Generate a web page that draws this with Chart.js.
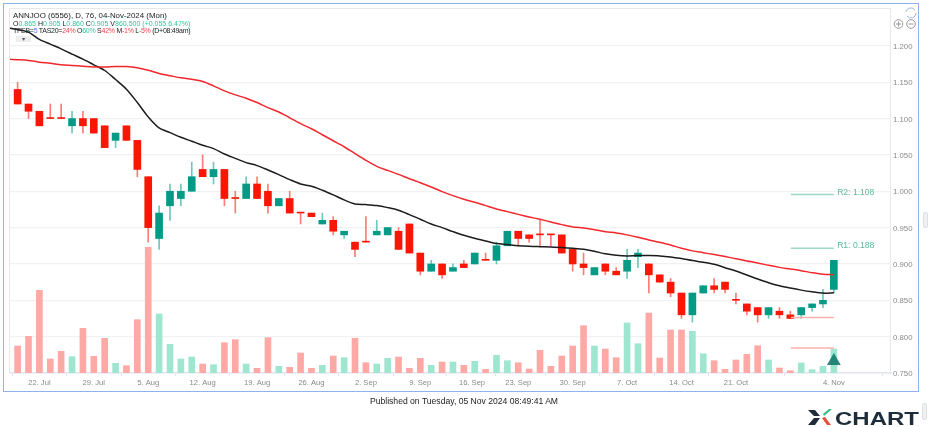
<!DOCTYPE html>
<html>
<head>
<meta charset="utf-8">
<script src="https://cdn.jsdelivr.net/npm/chart.js@4/dist/chart.umd.js"></script>
<style>
html, body { margin: 0; padding: 0; background: #fff; overflow: hidden; }
#wrap { position: relative; width: 928px; height: 427px; font-family: "Liberation Sans", Arial, sans-serif; }
#outer { position: absolute; left: 3px; top: 3px; width: 914px; height: 387px; border: 1px solid #8fb2ec; }
#inner { position: absolute; left: 9px; top: 8px; width: 880px; height: 364px; border: 1.5px solid #e8e8e8; border-bottom: 0; }
canvas { position: absolute; left: 0; top: 0; }
#info { position: absolute; left: 13px; top: 12px; line-height: 7.6px; color: #222; white-space: nowrap; }
#info .l1 { font-size: 7.9px; } #info .l2 { font-size: 7px; } #info .l3 { font-size: 7px; letter-spacing: -0.27px; }
#info .g { color: #2fc79a; } #info .r { color: #f5474a; } #info .b { color: #4d7cff; }
#drop { position: absolute; left: 16px; top: 36px; width: 15px; height: 6px; background: #eee; color: #555; font-size: 6px; line-height: 6px; text-align: center; }
#published { position: absolute; left: 0; width: 928px; top: 396px; text-align: center; font-size: 8.6px; color: #222; }
#logo { position: absolute; left: 808px; top: 408px; }
.handle { position: absolute; background: #eef0f2; border: 1px solid #dcdfe3; border-radius: 2px; }
#zoomer { position: absolute; left: 892px; top: 4px; }
</style>
</head>
<body>
<div id="wrap">
  <div id="outer"></div>
  <div id="inner"></div>
  <canvas id="xchart" width="928" height="427"></canvas>
  <div id="info">
    <div class="l1">ANNJOO (6556), D, 76, 04-Nov-2024 (Mon)</div>
    <div class="l2">O<span class="g">0.865</span> H<span class="g">0.905</span> L<span class="g">0.860</span> C<span class="g">0.905</span> V<span class="g">860,500</span> <span class="g">(+0.055 6.47%)</span></div>
    <div class="l3">TFEB=<span class="b">5</span> TAS20=<span class="r">24%</span> O<span class="g">60%</span> S<span class="r">42%</span> M<span class="r">-1%</span> L<span class="r">-5%</span> (D+08:49am)</div>
  </div>
  <div id="drop">&#9662;</div>
  <svg id="zoomer" width="28" height="28" viewBox="0 0 28 28" fill="none">
    <path d="M14 8 a5 5 0 0 1 9 -2 M24 9 a5 5 0 0 1 -9 3" stroke="#9db8ea" stroke-width="1"/>
    <circle cx="6.5" cy="20" r="4.3" stroke="#999"/><path d="M4 20h5M6.5 17.5v5" stroke="#999"/>
    <circle cx="19" cy="20" r="4.3" stroke="#999"/><path d="M16.5 20h5" stroke="#999"/>
  </svg>
  <div class="handle" style="left:923px;top:212px;width:3px;height:14px"></div>
  <div class="handle" style="left:922px;top:403px;width:3px;height:15px"></div>
  <div id="published">Published on Tuesday, 05 Nov 2024 08:49:41 AM</div>
  <svg id="logo" width="112" height="19" viewBox="0 0 112 19">
    <path d="M0 2h7l5 6h-6zM0 17h7l5-7h-6z" fill="#1f2d3a"/>
    <path d="M15 6l6-5h3l-8 7z" fill="#2fbf7f"/>
    <path d="M14 10l3-1 6 8h-4z" fill="#e8503a"/>
    <text x="27" y="17" font-family="Liberation Sans" font-weight="700" font-size="18.5" textLength="84" lengthAdjust="spacingAndGlyphs" fill="#1f2d3a">CHART</text>
  </svg>
</div>
<script>
const tickIndex = [2, 7, 12, 17, 22, 27, 32, 37, 41.75, 46, 51, 56, 61, 66, 75];
const tickLabels = ['22. Jul', '29. Jul', '5. Aug', '12. Aug', '19. Aug', '26. Aug', '2. Sep', '9. Sep', '16. Sep', '23. Sep', '30. Sep', '7. Oct', '14. Oct', '21. Oct', '4. Nov'];
const priceTicks = [0.75, 0.8, 0.85, 0.9, 0.95, 1.0, 1.05, 1.1, 1.15, 1.2];

const opens = [1.14, 1.12, 1.11, 1.10, 1.10, 1.09, 1.10, 1.10, 1.09, 1.07, 1.09, 1.07, 1.02, 0.935, 0.98, 0.99, 1.00, 1.03, 1.02, 1.03,
  0.99, 0.99, 1.01, 1.00, 0.98, 0.99, 0.97, 0.97, 0.955, 0.96, 0.94, 0.93, 0.93, 0.94, 0.94, 0.945, 0.955, 0.915, 0.89, 0.90,
  0.89, 0.90, 0.90, 0.905, 0.905, 0.925, 0.945, 0.94, 0.94, 0.94, 0.94, 0.92, 0.90, 0.885, 0.90, 0.89, 0.89, 0.91, 0.90, 0.885,
  0.875, 0.86, 0.83, 0.86, 0.87, 0.875, 0.85, 0.845, 0.84, 0.83, 0.835, 0.83, 0.83, 0.84, 0.845, 0.865];
const highs = [1.15, 1.12, 1.11, 1.12, 1.12, 1.11, 1.11, 1.10, 1.09, 1.08, 1.09, 1.07, 1.02, 0.98, 1.01, 1.01, 1.04, 1.05, 1.04, 1.03,
  1.00, 1.02, 1.02, 1.01, 0.99, 1.00, 0.97, 0.97, 0.97, 0.965, 0.945, 0.93, 0.965, 0.96, 0.95, 0.95, 0.955, 0.915, 0.905, 0.90,
  0.90, 0.905, 0.915, 0.915, 0.93, 0.945, 0.945, 0.94, 0.96, 0.94, 0.94, 0.92, 0.915, 0.895, 0.90, 0.895, 0.92, 0.92, 0.90, 0.885,
  0.88, 0.86, 0.86, 0.87, 0.88, 0.875, 0.86, 0.845, 0.84, 0.84, 0.84, 0.835, 0.84, 0.845, 0.865, 0.905];
const lows = [1.12, 1.10, 1.09, 1.10, 1.10, 1.08, 1.08, 1.08, 1.06, 1.06, 1.07, 1.02, 0.93, 0.92, 0.96, 0.98, 1.00, 1.02, 1.01, 0.98,
  0.97, 0.99, 0.99, 0.97, 0.98, 0.97, 0.955, 0.965, 0.955, 0.94, 0.935, 0.91, 0.93, 0.94, 0.94, 0.92, 0.915, 0.885, 0.89, 0.88,
  0.89, 0.895, 0.90, 0.905, 0.90, 0.925, 0.925, 0.93, 0.925, 0.925, 0.915, 0.89, 0.885, 0.885, 0.885, 0.885, 0.88, 0.895, 0.86, 0.875,
  0.855, 0.825, 0.82, 0.86, 0.86, 0.86, 0.845, 0.83, 0.82, 0.825, 0.825, 0.825, 0.825, 0.835, 0.84, 0.86];
const closes = [1.12, 1.11, 1.09, 1.10, 1.10, 1.10, 1.09, 1.08, 1.06, 1.08, 1.07, 1.03, 0.95, 0.97, 1.00, 1.00, 1.02, 1.02, 1.03, 0.99,
  0.99, 1.01, 0.99, 0.98, 0.99, 0.97, 0.97, 0.965, 0.96, 0.945, 0.945, 0.92, 0.93, 0.945, 0.95, 0.92, 0.915, 0.89, 0.90, 0.885,
  0.895, 0.895, 0.915, 0.905, 0.925, 0.945, 0.935, 0.935, 0.94, 0.94, 0.915, 0.90, 0.895, 0.895, 0.89, 0.885, 0.905, 0.915, 0.885, 0.875,
  0.86, 0.83, 0.86, 0.87, 0.865, 0.865, 0.85, 0.835, 0.83, 0.84, 0.83, 0.825, 0.84, 0.845, 0.85, 0.905];
const volumes = [968, 1316, 2965, 502, 778, 584, 1602, 599, 1244, 348, 262, 1911, 4506, 2115, 1029, 502, 574, 323, 298, 1086,
  1194, 323, 168, 1266, 240, 204, 717, 168, 276, 609, 549, 1244, 369, 323, 527, 574, 168, 527, 276, 394,
  394, 276, 419, 133, 635, 441, 369, 143, 814, 240, 609, 968, 1696, 968, 860, 549, 1793, 1050, 2151, 538,
  1542, 1542, 1495, 692, 441, 133, 466, 670, 979, 466, 179, 82, 359, 118, 240, 860.5];
// both averages start one bar before the first candle
const blackAvg = [1.2248, 1.2225, 1.2189, 1.2088, 1.2023, 1.1959, 1.1886, 1.1817, 1.1739, 1.1661, 1.1537, 1.1404, 1.122, 1.1023, 1.0871, 1.0807, 1.0743, 1.0688, 1.0632, 1.0587,
  1.0513, 1.0453, 1.0394, 1.0353, 1.0293, 1.0229, 1.016, 1.01, 1.0069, 1.0014, 0.995, 0.9881, 0.9826, 0.9817, 0.9803, 0.9775, 0.9739, 0.9679, 0.9615, 0.955,
  0.95, 0.9445, 0.9394, 0.9353, 0.9316, 0.928, 0.9266, 0.9252, 0.9243, 0.9238, 0.9234, 0.9225, 0.9215, 0.9202, 0.9174, 0.914, 0.912, 0.9111, 0.9115, 0.9115,
  0.9111, 0.9097, 0.9074, 0.9046, 0.9023, 0.8995, 0.8949, 0.8903, 0.8848, 0.8793, 0.8742, 0.87, 0.8668, 0.864, 0.8617, 0.8599, 0.8604];
const redAvg = [1.1817, 1.181, 1.18, 1.1775, 1.176, 1.174, 1.173, 1.172, 1.171, 1.171, 1.1716, 1.1716, 1.17, 1.1665, 1.162, 1.159, 1.156, 1.154, 1.151, 1.145,
  1.138, 1.1326, 1.128, 1.122, 1.115, 1.109, 1.101, 1.093, 1.086, 1.0777, 1.0695, 1.0612, 1.0517, 1.0425, 1.0342, 1.0287, 1.0232, 1.0172, 1.0118, 1.0059,
  0.9995, 0.994, 0.989, 0.9848, 0.9802, 0.9757, 0.972, 0.9682, 0.9647, 0.9614, 0.9578, 0.9541, 0.9509, 0.9496, 0.9472, 0.9444, 0.9426, 0.94, 0.9367, 0.933,
  0.9298, 0.9262, 0.9215, 0.918, 0.9155, 0.9129, 0.9101, 0.9073, 0.9042, 0.9014, 0.8981, 0.8953, 0.8931, 0.8908, 0.888, 0.8858, 0.8853];

// projection lines drawn at the right edge
const r2Level = [0.9955, 0.9955];
const r1Level = [0.9215, 0.9215];
const lowLevel = [0.8265, 0.8265];
const volLevel = [0.7845, 0.7845];
const levelSpan = [71.05, 75];
const levelLabels = [{ text: 'R2: 1.108', price: 0.9985 }, { text: 'R1: 0.188', price: 0.925 }];

const RED = '#f91605', GREEN = '#049a86';
const isUp = closes.map((c, i) => c > opens[i]);

const levelData = (prices) => prices.map((p, i) => ({ x: levelSpan[i], y: p }));
const levelSet = (prices, color) => ({
  type: 'line', data: levelData(prices), borderColor: color, borderWidth: 1.5,
  pointRadius: 0, order: 1
});

const levelTextPlugin = {
  id: 'levelText',
  afterDatasetsDraw(chart) {
    const { ctx, scales } = chart;
    ctx.save();
    ctx.font = '8.6px "Liberation Sans"';
    ctx.fillStyle = '#5cb89a';
    ctx.textBaseline = 'middle';
    levelLabels.forEach(l => ctx.fillText(l.text, scales.x.getPixelForValue(75.3), scales.y.getPixelForValue(l.price)));
    ctx.restore();
  }
};

new Chart(document.getElementById('xchart'), {
  type: 'bar',
  data: {
    datasets: [
      {
        label: 'Volume', yAxisID: 'vol', order: 6, barThickness: 6,
        data: volumes.map((v, i) => ({ x: i, y: v })),
        backgroundColor: isUp.map(u => u ? '#9fe6d0' : '#ffa9a7')
      },
      {
        label: 'Wick', order: 5, barThickness: 1,
        data: highs.map((h, i) => ({ x: i, y: [lows[i], h] })),
        backgroundColor: isUp.map(u => u ? '#6fc7bb' : '#fb7d75')
      },
      {
        label: 'Body', order: 4, barThickness: 7, minBarLength: 1,
        data: opens.map((o, i) => ({ x: i, y: [o, closes[i]] })),
        backgroundColor: isUp.map(u => u ? GREEN : RED)
      },
      {
        type: 'line', label: 'Black avg', order: 3, tension: 0.3,
        data: blackAvg.map((v, i) => ({ x: i - 1, y: v })),
        borderColor: '#1c1c1c', borderWidth: 1.5, pointRadius: 0
      },
      {
        type: 'line', label: 'Red avg', order: 2, tension: 0.3,
        data: redAvg.map((v, i) => ({ x: i - 1, y: v })),
        borderColor: '#f2272c', borderWidth: 1.5, pointRadius: 0
      },
      levelSet(r2Level, '#9ed8c4'),
      levelSet(r1Level, '#9ed8c4'),
      levelSet(lowLevel, '#fbb0ab'),
      levelSet(volLevel, '#fbb0ab'),
      {
        type: 'line', label: 'Signal', order: 0,
        data: [{ x: 75, y: 0.7665 }],
        pointStyle: 'triangle', pointRadius: 8, borderWidth: 0,
        backgroundColor: 'rgba(10,115,105,0.85)', showLine: false
      }
    ]
  },
  plugins: [levelTextPlugin],
  options: {
    responsive: false,
    animation: false,
    devicePixelRatio: 1,
    layout: { padding: { left: 10, top: 9, right: 0, bottom: 0 } },
    datasets: { bar: { grouped: false } },
    plugins: { legend: { display: false }, tooltip: { enabled: false } },
    scales: {
      x: {
        type: 'linear', offset: false, min: -0.7, max: 80.25,
        grid: { display: true, drawOnChartArea: false, drawTicks: true, tickLength: 3, color: '#dfe3f0' },
        border: { color: '#e3e6f2', width: 1.5 },
        afterBuildTicks: s => { s.ticks = tickIndex.map(v => ({ value: v })); },
        afterFit: s => { s.height = 54; },
        ticks: {
          autoSkip: false, maxRotation: 0, padding: 2, color: '#8a8a8a',
          font: { family: 'Liberation Sans', size: 7.6 },
          callback: (v, i) => tickLabels[i]
        }
      },
      y: {
        position: 'right', min: 0.75, max: 1.2507,
        grid: { color: '#f1f1f1', lineWidth: 1.3, drawTicks: false, tickLength: 0 },
        border: { display: false },
        afterBuildTicks: s => { s.ticks = priceTicks.map(v => ({ value: v })); },
        afterFit: s => { s.width = 37; },
        ticks: {
          padding: 2, labelOffset: 1, color: '#8a8a8a',
          font: { family: 'Liberation Sans', size: 7.8 },
          callback: v => v.toFixed(3)
        }
      },
      vol: { display: false, min: 0, max: 13049 }
    }
  }
});
</script>
</body>
</html>
